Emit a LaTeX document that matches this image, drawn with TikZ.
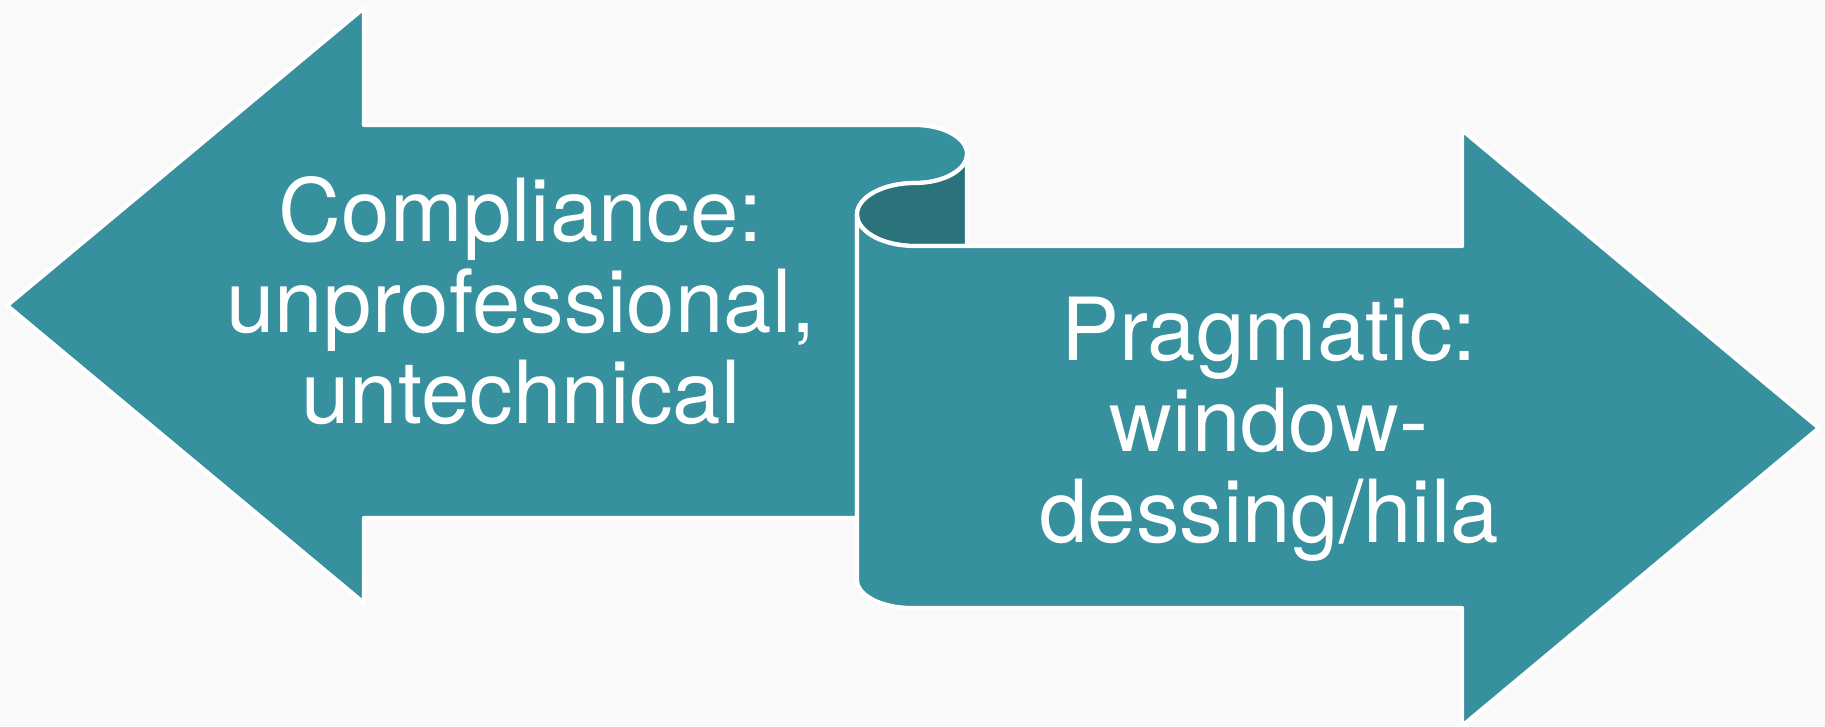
\documentclass[tikz,border=0pt]{standalone}
\usepackage{fontspec}
\setmainfont{TeX Gyre Heros}
\usetikzlibrary{positioning}
\definecolor{ribbonTeal}{RGB}{54,144,157}
\definecolor{ribbonDark}{RGB}{42,115,122}
\definecolor{fondo}{RGB}{249,249,249}

\begin{document}
\begin{tikzpicture}[x=0.01cm, y=-0.01cm,
    ribbon/.style={fill=ribbonTeal, draw=white, line width=1.2pt, line join=round},
    ribbonback/.style={fill=ribbonDark, draw=white, line width=1.2pt, line join=round},
    ribbontext/.style={text=white, align=center, inner sep=0pt, font=\fontsize{24.75}{25.9}\selectfont}
]
    \fill[fondo] (0,0) rectangle (1825,726);
    \useasboundingbox (0,0) rectangle (1825,726);

    \draw[ribbon] (7,305.5) -- (364,8) -- (364,125) -- (915,125)
        arc[start angle=-90, end angle=90, x radius=52, y radius=29]
        arc[start angle=-90, end angle=-180, x radius=58, y radius=31.5]
        -- (857,518) -- (364,518) -- (364,603) -- cycle;
    \draw[ribbonback] (915,183)
        arc[start angle=-90, end angle=-270, x radius=58, y radius=31.5]
        -- (967,246) -- (967,154)
        arc[start angle=0, end angle=90, x radius=52, y radius=29] -- cycle;
    \draw[ribbon] (857,214.5) -- (857,580)
        arc[start angle=180, end angle=90, x radius=55, y radius=28]
        -- (1462,608) -- (1462,726) -- (1819,428) -- (1462,130) -- (1462,246) -- (915,246)
        arc[start angle=90, end angle=180, x radius=58, y radius=31.5] -- cycle;

    \node[ribbontext] (compliance) at (521,301) {Compliance:\\unprofessional,\\untechnical};
    \node[ribbontext] (pragmatic) at (1269,429) {Pragmatic:\\window-\\dessing/hila};
\end{tikzpicture}
\end{document}
